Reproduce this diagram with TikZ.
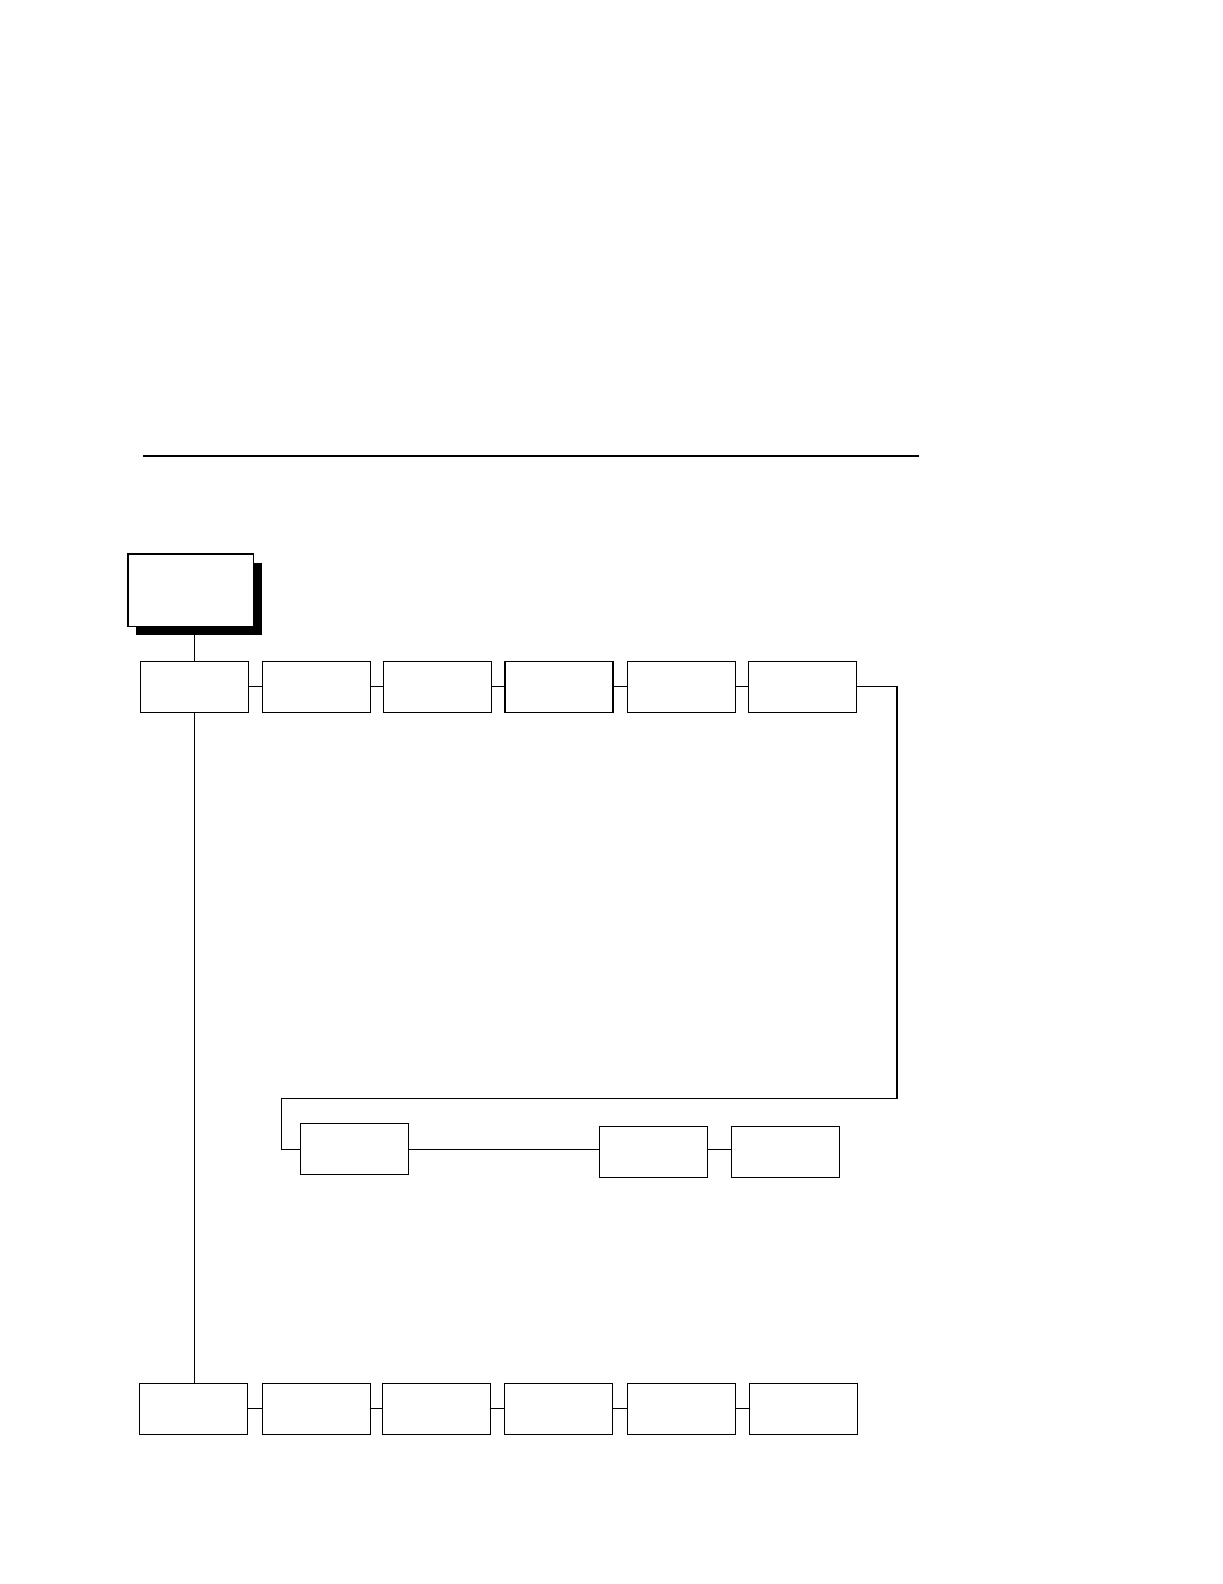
\documentclass[tikz,border=0pt]{standalone}
\usepackage{tikz}
\usetikzlibrary{shadows}

\tikzset{
  menubox/.style={draw,line width=0.55pt,minimum width=54pt,minimum height=25.5pt,inner sep=0pt,fill=white},
  topbox/.style={draw,line width=0.55pt,minimum width=62.85pt,minimum height=36.15pt,inner sep=0pt,fill=white,
    drop shadow={shadow xshift=4pt,shadow yshift=-4.25pt,fill=black,opacity=1}},
  link/.style={line width=0.55pt}
}

\begin{document}
\begin{tikzpicture}[x=0.5pt,y=-0.5pt]
\useasboundingbox (0,0) rectangle (1222,1584);
% rule across the page
\draw[line width=1.15pt] (143,455.7) -- (919,455.7);
% top menu box
\node[topbox] (top) at (190.85,590.15) {};
% first row
\foreach \n/\x in {a/194.35,b/316.3,c/437.3,d/559,e/681.5,f/802.35}
  \node[menubox] (r1\n) at (\x,686.8) {};
% middle row
\node[menubox] (r2a) at (354.3,1149.3) {};
\node[menubox] (r2b) at (653.5,1151.8) {};
\node[menubox] (r2c) at (785.3,1151.8) {};
% last row
\foreach \n/\x in {a/193.5,b/316.5,c/436.3,d/558.35,e/681.3,f/803.3}
  \node[menubox] (r3\n) at (\x,1408.8) {};
\coordinate (turnr) at (897,1098.3);
\coordinate (turnl) at (281.3,1098.3);
% connectors
\draw[link] (r1a.north) -- (r1a.north |- top.south);
\draw[link] (r1a.south) -- (r1a.south |- r3a.north);
\foreach \p/\q in {a/b,b/c,c/d,d/e,e/f}{
  \draw[link] (r1\p.east) -- (r1\q.west);
  \draw[link] (r3\p.east) -- (r3\q.west);
}
\draw[link] (r1f.east) -| (turnr) -- (turnl) |- (r2a.west);
\draw[link] (r2a.east) -- (r2a.east -| r2b.west);
\draw[link] (r2b.east |- r2a.east) -- (r2c.west |- r2a.east);
\end{tikzpicture}
\end{document}
